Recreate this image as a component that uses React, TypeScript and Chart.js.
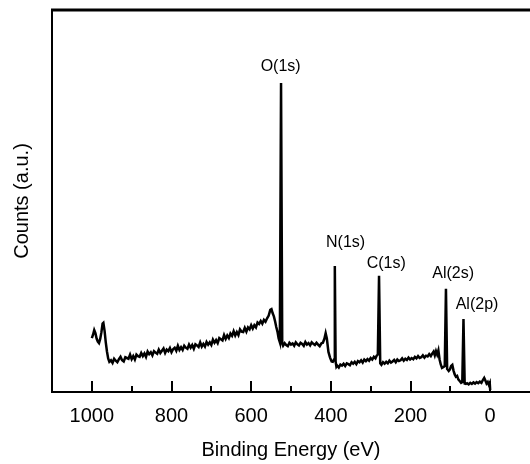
import React, { useEffect, useRef } from "react";
import { Chart, registerables } from "chart.js";

Chart.register(...registerables);

// Binding energy (eV), descending
const energies = [
  1000, 997, 994, 991, 988, 985, 982, 979, 976, 973, 971, 968, 965, 962, 959, 956,
  952, 948, 944, 940, 936, 932, 928, 924, 920, 916, 912, 908, 904, 900, 896, 892, 888, 884,
  880, 876, 872, 868, 864, 860, 856, 852, 848, 844, 840, 836, 832, 828, 824, 820, 816, 812,
  808, 804, 800, 796, 792, 788, 784, 780, 776, 772, 768, 764, 760, 756, 752, 748, 744, 740,
  736, 732, 728, 724, 720, 716, 712, 708, 704, 700, 696, 692, 688, 684, 680, 676, 672, 668,
  664, 660, 656, 652, 648, 644, 640, 636, 632, 628, 624, 620, 616, 612, 608, 604, 600, 596,
  592, 588, 584, 580, 576, 572, 568, 564, 560,
  556, 552, 549, 546, 543, 540, 537, 534, 531, 528, 525, 522,
  520, 516, 512, 508, 504, 500, 496, 492, 488, 484, 480, 476, 472, 468, 464, 460, 456, 452,
  448, 444, 440, 436, 432, 428, 424, 420,
  416, 413, 410, 406, 402, 398, 395, 392, 390, 388, 386,
  384, 380, 376, 372, 368, 364, 360, 356, 352, 348, 344, 340, 336, 332, 328, 324, 320, 316,
  312, 308, 304, 300, 296, 292, 288, 285, 282, 279,
  276, 273, 269, 265, 261, 257, 253, 249, 245, 241, 237, 233, 229, 225, 221, 217, 213, 209,
  205, 201, 197, 193, 189, 185, 181, 177, 173, 169, 165, 161, 157, 153, 149, 146,
  142, 139, 136, 133, 130, 127, 124, 121, 118, 114, 111, 108, 106, 104, 101, 98, 95, 92,
  89, 86, 83, 80, 76, 73, 70, 67, 64, 61, 58, 54, 50, 46, 42, 38, 34, 30, 26, 22, 18, 15,
  12, 9, 6, 3, 1, 0,
];

// Counts (a.u.)
const counts = [
  14.1, 15.0, 16.2, 15.4, 14.0, 13.2, 12.8, 13.9, 15.6, 17.9, 18.1, 16.0, 13.0, 10.6, 8.8, 7.9,
  8.3, 7.6, 8.7, 8.2, 7.8, 8.6, 9.2, 8.3, 8.0, 9.1, 8.9, 8.7, 9.8, 8.6, 9.4, 8.5, 9.8, 9.4,
  9.2, 10.2, 9.4, 10.1, 9.2, 10.6, 9.9, 10.4, 9.6, 10.7, 10.3, 10.0, 11.1, 10.2, 10.8, 11.4, 10.2, 11.1,
  10.7, 11.5, 10.4, 11.2, 11.6, 10.8, 12.1, 11.0, 11.7, 11.0, 12.1, 11.6, 11.3, 12.4, 11.6, 12.3, 11.3, 12.5,
  12.2, 11.8, 13.0, 11.9, 12.6, 11.9, 13.1, 12.4, 13.0, 12.3, 13.7, 12.9, 13.6, 12.8, 14.1, 13.8, 13.5, 14.9,
  13.9, 14.8, 14.1, 15.3, 14.7, 15.9, 14.8, 15.7, 14.9, 16.4, 15.8, 15.7, 16.8, 15.8, 16.9, 16.4, 17.5, 16.6,
  17.5, 16.9, 18.2, 17.8, 18.6, 17.9, 18.9, 18.4, 19.3,
  20.0, 21.5, 21.7, 20.6, 19.8, 18.5, 17.0, 15.8, 14.0, 13.0, 80.9, 12.6,
  12.1, 12.8, 12.3, 12.0, 12.9, 12.4, 12.7, 12.1, 13.0, 12.5, 12.2, 12.9, 12.6, 12.1, 13.1, 12.4, 12.8, 12.2,
  13.0, 12.6, 12.3, 12.9, 12.4, 12.0, 12.7, 12.9,
  14.0, 15.4, 14.0, 10.5, 9.0, 8.0, 7.9, 8.5, 33.0, 8.0, 6.6,
  6.9, 6.4, 7.2, 6.9, 7.4, 6.8, 7.5, 7.3, 7.0, 7.8, 7.4, 7.9, 7.3, 8.1, 7.8, 8.3, 7.7, 8.5,
  8.1, 8.6, 8.2, 8.9, 8.5, 9.2, 8.8, 9.5, 9.8, 30.4,
  7.5, 7.1, 7.8, 7.4, 7.9, 7.5, 8.2, 7.7, 8.0, 8.4, 7.8, 8.5, 8.1, 8.3, 8.8, 8.2, 8.7, 8.4,
  9.0, 8.5, 8.9, 8.6, 9.2, 8.8, 9.4, 8.9, 9.1, 9.6, 9.0, 9.5, 9.3, 9.9, 9.4, 10.0,
  10.6, 9.6, 10.7, 9.8, 10.9, 8.5, 7.2, 6.3, 6.5, 6.8, 27.0, 6.0, 5.8, 5.5, 5.9, 6.8, 7.1, 5.6,
  4.6, 4.0, 4.2, 3.3, 2.8, 2.4, 2.6, 19.1, 2.2, 2.1, 2.3, 2.0, 2.4, 2.1, 2.5, 2.2, 2.6, 2.3, 2.7, 2.4, 3.2, 3.7,
  3.0, 2.2, 2.6, 1.8, 2.3, 0.5,
];

const majorTicks = [1000, 800, 600, 400, 200, 0];
const minorTicks = [900, 700, 500, 300, 100];

const peakLabels = ["O(1s)", "N(1s)", "C(1s)", "Al(2s)", "Al(2p)"];
const peakLabelEnergies = [526, 363, 261, 93, 33];
const peakLabelCounts = [85.1, 39.0, 33.5, 30.9, 22.8];

const FONT = "'Liberation Sans', Arial, Helvetica, sans-serif";

const framePlugin = {
  id: "frameAndTicks",
  afterDatasetsDraw(chart: any) {
    const { ctx, chartArea } = chart;
    const xs = chart.scales.x;
    const ys = chart.scales.y;
    ctx.save();
    ctx.strokeStyle = "#000";
    ctx.lineCap = "butt";
    // top line
    ctx.lineWidth = 3;
    ctx.beginPath();
    ctx.moveTo(chartArea.left - 1, chartArea.top);
    ctx.lineTo(chartArea.right, chartArea.top);
    ctx.stroke();
    // left & bottom
    ctx.lineWidth = 2;
    ctx.beginPath();
    ctx.moveTo(chartArea.left, chartArea.top);
    ctx.lineTo(chartArea.left, chartArea.bottom + 1);
    ctx.moveTo(chartArea.left, chartArea.bottom);
    ctx.lineTo(chartArea.right, chartArea.bottom);
    ctx.stroke();
    // ticks (inward)
    ctx.lineWidth = 2;
    ctx.beginPath();
    majorTicks.forEach((v) => {
      const px = Math.round(xs.getPixelForValue(v));
      ctx.moveTo(px, chartArea.bottom);
      ctx.lineTo(px, chartArea.bottom - 11);
    });
    minorTicks.forEach((v) => {
      const px = Math.round(xs.getPixelForValue(v));
      ctx.moveTo(px, chartArea.bottom);
      ctx.lineTo(px, chartArea.bottom - 6);
    });
    ctx.stroke();
    // peak labels
    ctx.fillStyle = "#000";
    ctx.font = `16px ${FONT}`;
    ctx.textAlign = "center";
    ctx.textBaseline = "middle";
    peakLabels.forEach((t, i) => {
      ctx.fillText(t, xs.getPixelForValue(peakLabelEnergies[i]), ys.getPixelForValue(peakLabelCounts[i]));
    });
    ctx.restore();
  },
};

export default function App() {
  const ref = useRef<HTMLCanvasElement | null>(null);
  useEffect(() => {
    if (!ref.current) return;
    const data = energies.map((e, i) => ({ x: e, y: counts[i] }));
    const chart = new Chart(ref.current, {
      type: "line",
      data: {
        datasets: [
          {
            data,
            borderColor: "#000",
            borderWidth: 2.5,
            pointRadius: 0,
            tension: 0,
            fill: false,
          },
        ],
      },
      options: {
        animation: false,
        responsive: false,
        layout: { padding: { top: 10, right: 0, bottom: 0, left: 0 } },
        plugins: { legend: { display: false }, tooltip: { enabled: false } },
        scales: {
          x: {
            type: "linear",
            reverse: true,
            min: -100,
            max: 1100,
            afterBuildTicks: (s: any) => {
              s.ticks = majorTicks.map((v) => ({ value: v }));
            },
            afterFit: (s: any) => {
              s.height = 72;
            },
            grid: { display: false, drawTicks: false },
            border: { display: false },
            ticks: {
              autoSkip: false,
              maxRotation: 0,
              padding: 12,
              color: "#000",
              font: { family: FONT, size: 20 },
              callback: (v: any) => String(v),
            },
            title: {
              display: true,
              text: "Binding Energy (eV)",
              color: "#000",
              font: { family: FONT, size: 20 },
              padding: { top: 0, bottom: 2 },
            },
          },
          y: {
            type: "linear",
            min: 0,
            max: 100,
            afterFit: (s: any) => {
              s.width = 52;
            },
            grid: { display: false, drawTicks: false },
            border: { display: false },
            ticks: { display: false },
            title: {
              display: true,
              text: "Counts (a.u.)",
              color: "#000",
              font: { family: FONT, size: 20 },
              padding: { top: 10, bottom: 0 },
            },
          },
        },
      },
      plugins: [framePlugin],
    });
    return () => chart.destroy();
  }, []);
  return (
    <div style={{ position: "absolute", left: 0, top: 0, width: 530, height: 464, background: "#fff" }}>
      <canvas ref={ref} width={530} height={464} style={{ display: "block" }} />
    </div>
  );
}
